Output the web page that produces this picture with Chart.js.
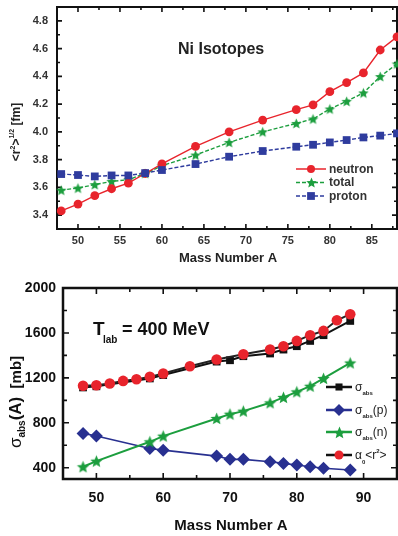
<!DOCTYPE html>
<html><head><meta charset="utf-8">
<script src="https://cdn.jsdelivr.net/npm/chart.js@4"></script>
<style>
html,body{margin:0;padding:0;background:#fff;overflow:hidden;}
canvas{display:block;}
</style></head><body>
<canvas id="c1" width="398" height="268"></canvas>
<canvas id="c2" width="398" height="268"></canvas>
<script>
// ---------- Top chart data (Ni isotopes radii) ----------
const isoA = [48,50,52,54,56,58,60,64,68,72,76,78,80,82,84,86,88];
const neutronR = [3.43,3.48,3.54,3.59,3.63,3.70,3.77,3.895,4.00,4.085,4.16,4.195,4.29,4.355,4.425,4.59,4.685];
const totalR   = [3.58,3.595,3.62,3.643,3.655,3.70,3.756,3.833,3.924,4.00,4.061,4.093,4.165,4.22,4.281,4.399,4.49];
const protonR  = [3.696,3.689,3.679,3.686,3.686,3.703,3.725,3.768,3.821,3.862,3.893,3.907,3.924,3.941,3.96,3.973,3.989];
const topYTicks = [3.4,3.6,3.8,4.0,4.2,4.4,4.6,4.8];
const topXTicks = [50,55,60,65,70,75,80,85];

// ---------- Bottom chart data (absorption cross sections) ----------
const absA   = [48,50,58,60,68,70,72,76,78,80,82,84,88];
const sigmaAbs = [1115,1125,1195,1225,1345,1357,1393,1417,1452,1482,1529,1580,1707];
const sigmaP   = [706,682,572,557,504,475,475,453,439,424,409,395,380];
const sigmaN   = [409,459,631,682,839,877,904,978,1026,1076,1126,1195,1333];
const alphaA   = [48,50,52,54,56,58,60,64,68,72,76,78,80,82,84,86,88];
const alphaR2  = [1130,1135,1150,1173,1188,1209,1239,1304,1364,1410,1452,1482,1529,1580,1618,1713,1767];
const botYTicks = [400,800,1200,1600,2000];
const botXTicks = [50,60,70,80,90];

const FONT = "'Liberation Sans', Arial, sans-serif";
const RED = '#e8242c', GREEN = '#1c9e3e', BLUE = '#2f3c9e', NAVY = '#283090', BLACK = '#111';

function makeStar(color, R) {
  const s = Math.ceil(2 * R + 2);
  const c = document.createElement('canvas');
  c.width = s; c.height = s;
  const g = c.getContext('2d');
  g.fillStyle = color;
  g.beginPath();
  const cx = s / 2, cy = s / 2 + R * 0.08, r = R * 0.45;
  for (let i = 0; i < 10; i++) {
    const ang = -Math.PI / 2 + i * Math.PI / 5;
    const rr = i % 2 === 0 ? R : r;
    const px = cx + rr * Math.cos(ang), py = cy + rr * Math.sin(ang);
    if (i === 0) g.moveTo(px, py); else g.lineTo(px, py);
  }
  g.closePath(); g.fill();
  return c;
}
const starTop = makeStar(GREEN, 5.5);
const starBot = makeStar(GREEN, 6.5);

function pts(xs, ys) { return xs.map((a, i) => ({ x: a, y: ys[i] })); }

function marker(ctx, style, x, y, r, color) {
  ctx.save();
  ctx.fillStyle = color; ctx.strokeStyle = color; ctx.setLineDash([]);
  ctx.beginPath();
  if (style === 'circle') { ctx.arc(x, y, r, 0, Math.PI * 2); ctx.fill(); }
  else if (style === 'rect') { const h = r * Math.SQRT1_2; ctx.fillRect(x - h, y - h, 2 * h, 2 * h); }
  else if (style === 'rectRot') { ctx.moveTo(x, y - r); ctx.lineTo(x + r, y); ctx.lineTo(x, y + r); ctx.lineTo(x - r, y); ctx.closePath(); ctx.fill(); }
  else if (style && style.getContext) { ctx.drawImage(style, Math.round(x - style.width / 2), Math.round(y - style.height / 2)); }
  ctx.restore();
}

function drawRich(ctx, x, y, segs, align) {
  let w = 0;
  const f = s => (s.bold ? 'bold ' : '') + s.size + 'px ' + FONT;
  for (const s of segs) { ctx.font = f(s); s.w = ctx.measureText(s.t).width; w += s.w; }
  let cx = align === 'center' ? x - w / 2 : (align === 'right' ? x - w : x);
  ctx.textAlign = 'left'; ctx.textBaseline = 'alphabetic';
  for (const s of segs) { ctx.font = f(s); ctx.fillText(s.t, cx, y + (s.dy || 0)); cx += s.w; }
}

function drawFrameTicks(ctx, a, x, y, xMaj, xMin, yMaj, yMin, lw, tl, tm) {
  ctx.save();
  ctx.strokeStyle = BLACK; ctx.setLineDash([]);
  ctx.lineWidth = lw;
  ctx.strokeRect(a.left, a.top, a.right - a.left, a.bottom - a.top);
  ctx.lineWidth = 1.6;
  ctx.beginPath();
  const vx = (v, len) => {
    const p = x.getPixelForValue(v);
    if (p < a.left + 1 || p > a.right - 1) return;
    ctx.moveTo(p, a.bottom); ctx.lineTo(p, a.bottom - len);
    ctx.moveTo(p, a.top); ctx.lineTo(p, a.top + len);
  };
  const vy = (v, len) => {
    const p = y.getPixelForValue(v);
    if (p < a.top + 1 || p > a.bottom - 1) return;
    ctx.moveTo(a.left, p); ctx.lineTo(a.left + len, p);
    ctx.moveTo(a.right, p); ctx.lineTo(a.right - len, p);
  };
  xMaj.forEach(v => vx(v, tl)); xMin.forEach(v => vx(v, tm));
  yMaj.forEach(v => vy(v, tl)); yMin.forEach(v => vy(v, tm));
  ctx.stroke();
  ctx.restore();
}
function mids(arr) { const out = []; for (let i = 0; i < arr.length - 1; i++) out.push((arr[i] + arr[i + 1]) / 2); out.push(arr[arr.length - 1] + (arr[1] - arr[0]) / 2); out.unshift(arr[0] - (arr[1] - arr[0]) / 2); return out; }

function fitX(h) { return s => { s.height = h; s.paddingLeft = 0; s.paddingRight = 0; s.paddingTop = 0; s.paddingBottom = 0; }; }
function fitY(w) { return s => { s.width = w; s.paddingLeft = 0; s.paddingRight = 0; s.paddingTop = 0; s.paddingBottom = 0; }; }

// ---------------- TOP CHART ----------------
const topDecor = {
  id: 'topDecor',
  beforeDatasetsDraw(chart) {
    const { ctx, chartArea: a, scales: { x, y } } = chart;
    drawFrameTicks(ctx, a, x, y, topXTicks, mids(topXTicks), topYTicks, mids(topYTicks), 2, 5, 3);
  },
  afterDraw(chart) {
    const { ctx } = chart;
    ctx.save();
    ctx.fillStyle = '#222';
    ctx.font = 'bold 16px ' + FONT; ctx.textAlign = 'left'; ctx.textBaseline = 'alphabetic';
    ctx.fillText('Ni Isotopes', 178, 54);
    ctx.font = 'bold 13px ' + FONT; ctx.textAlign = 'center';
    ctx.fillText('Mass Number A', 228, 262);
    // y title
    ctx.save(); ctx.translate(15, 132); ctx.rotate(-Math.PI / 2);
    drawRich(ctx, 0, 5, [
      { t: '<r', size: 12, bold: true }, { t: '2', size: 7, bold: true, dy: -5 },
      { t: '>', size: 12, bold: true }, { t: '1/2', size: 7, bold: true, dy: -6 },
      { t: ' [fm]', size: 12, bold: true }], 'center');
    ctx.restore();
    // legend
    const rows = [
      { t: 'neutron', c: RED, s: 'circle', r: 4, dash: [] },
      { t: 'total', c: GREEN, s: starTop, r: 5, dash: [4, 2] },
      { t: 'proton', c: BLUE, s: 'rect', r: 5.5, dash: [4, 2] }];
    rows.forEach((row, i) => {
      const yy = 169 + i * 13.5;
      ctx.save(); ctx.strokeStyle = row.c; ctx.lineWidth = 1.5; ctx.setLineDash(row.dash);
      ctx.beginPath(); ctx.moveTo(296, yy); ctx.lineTo(326, yy); ctx.stroke(); ctx.restore();
      marker(ctx, row.s, 311, yy, row.r, row.c);
      ctx.fillStyle = '#333'; ctx.font = 'bold 12px ' + FONT; ctx.textAlign = 'left'; ctx.textBaseline = 'middle';
      ctx.fillText(row.t, 329, yy + 0.5);
    });
    ctx.restore();
  }
};

new Chart(document.getElementById('c1'), {
  type: 'line',
  data: {
    datasets: [
      { label: 'proton', data: pts(isoA, protonR), borderColor: BLUE, backgroundColor: BLUE, pointBackgroundColor: BLUE, pointBorderColor: BLUE,
        pointStyle: 'rect', pointRadius: 5.5, pointBorderWidth: 0, borderWidth: 1.4, borderDash: [4, 2], clip: false, order: 0 },
      { label: 'neutron', data: pts(isoA, neutronR), borderColor: RED, backgroundColor: RED, pointBackgroundColor: RED, pointBorderColor: RED,
        pointStyle: 'circle', pointRadius: 4.4, pointBorderWidth: 0, borderWidth: 1.4, clip: false, order: 1 },
      { label: 'total', data: pts(isoA, totalR), borderColor: GREEN, backgroundColor: GREEN,
        pointStyle: starTop, pointRadius: 5, borderWidth: 1.4, borderDash: [4, 2], clip: false, order: 2 }
    ]
  },
  options: {
    responsive: false, animation: false, events: [], devicePixelRatio: 1,
    layout: { autoPadding: false, padding: { top: 7, right: 1, left: 0, bottom: 0 } },
    plugins: { legend: { display: false }, tooltip: { enabled: false } },
    scales: {
      x: {
        type: 'linear', min: 47.5, max: 88,
        afterFit: fitX(39),
        afterBuildTicks: s => { s.ticks = topXTicks.map(v => ({ value: v })); },
        grid: { display: false, drawTicks: false }, border: { display: false },
        ticks: { padding: 5, color: '#333', autoSkip: false, maxRotation: 0, font: { family: FONT, size: 11, weight: 'bold' }, callback: v => String(v) }
      },
      y: {
        type: 'linear', min: 3.3, max: 4.9,
        afterFit: fitY(57),
        afterBuildTicks: s => { s.ticks = topYTicks.map(v => ({ value: v })); },
        grid: { display: false, drawTicks: false }, border: { display: false },
        ticks: { padding: 9, color: '#333', autoSkip: false, font: { family: FONT, size: 11, weight: 'bold' }, callback: v => Number(v).toFixed(1) }
      }
    }
  },
  plugins: [topDecor]
});

// ---------------- BOTTOM CHART ----------------
const botDecor = {
  id: 'botDecor',
  beforeDatasetsDraw(chart) {
    const { ctx, chartArea: a, scales: { x, y } } = chart;
    drawFrameTicks(ctx, a, x, y, botXTicks, mids(botXTicks), botYTicks, mids(botYTicks), 2.5, 6, 4);
  },
  afterDraw(chart) {
    const { ctx } = chart;
    ctx.save();
    ctx.fillStyle = '#111'; ctx.textAlign = 'left'; ctx.textBaseline = 'alphabetic';
    ctx.font = 'bold 19px ' + FONT; ctx.fillText('T', 93, 67);
    ctx.font = 'bold 10px ' + FONT; ctx.fillText('lab', 103, 75);
    ctx.font = 'bold 18px ' + FONT; ctx.fillText('= 400 MeV', 122, 67);
    ctx.font = 'bold 15px ' + FONT; ctx.textAlign = 'center';
    ctx.fillText('Mass Number A', 231, 262);
    // y title
    ctx.save(); ctx.translate(14, 134); ctx.rotate(-Math.PI / 2);
    drawRich(ctx, 0, 7, [
      { t: 'σ', size: 17, bold: false }, { t: 'abs', size: 10, bold: true, dy: 4 },
      { t: '(A)', size: 17, bold: true }, { t: '  [mb]', size: 15, bold: true }], 'center');
    ctx.restore();
    // legend
    const rows = [
      { c: BLACK, lc: BLACK, s: 'rect', r: 5, segs: [{ t: 'σ', size: 12 }, { t: 'abs', size: 6, bold: true, dy: 4 }] },
      { c: NAVY, lc: NAVY, s: 'rectRot', r: 6, segs: [{ t: 'σ', size: 12 }, { t: 'abs', size: 6, bold: true, dy: 4 }, { t: '(p)', size: 12 }] },
      { c: GREEN, lc: GREEN, s: starBot, r: 6, segs: [{ t: 'σ', size: 12 }, { t: 'abs', size: 6, bold: true, dy: 4 }, { t: '(n)', size: 12 }] },
      { c: RED, lc: BLACK, s: 'circle', r: 4.5, segs: [{ t: 'α', size: 12 }, { t: '0', size: 6, bold: true, dy: 5 }, { t: '<r', size: 12 }, { t: '2', size: 6, bold: true, dy: -6 }, { t: '>', size: 12 }] }];
    const ys = [119, 142, 164, 187];
    rows.forEach((row, i) => {
      const yy = ys[i];
      ctx.save(); ctx.strokeStyle = row.lc; ctx.lineWidth = 2.5; ctx.setLineDash([]);
      ctx.beginPath(); ctx.moveTo(326, yy); ctx.lineTo(352, yy); ctx.stroke(); ctx.restore();
      marker(ctx, row.s, 339, yy, row.r, row.c);
      ctx.fillStyle = '#222';
      drawRich(ctx, 355, yy + 4, row.segs, 'left');
    });
    ctx.restore();
  }
};

new Chart(document.getElementById('c2'), {
  type: 'line',
  data: {
    datasets: [
      { label: 'alpha0 r2', data: pts(alphaA, alphaR2), borderColor: '#222', backgroundColor: RED, pointBackgroundColor: RED, pointBorderColor: RED,
        pointStyle: 'circle', pointRadius: 5.3, pointBorderWidth: 0, borderWidth: 2, clip: false, order: 0 },
      { label: 'sigma abs', data: pts(absA, sigmaAbs), borderColor: BLACK, backgroundColor: BLACK, pointBackgroundColor: BLACK, pointBorderColor: BLACK,
        pointStyle: 'rect', pointRadius: 5.5, pointBorderWidth: 0, borderWidth: 2, clip: false, order: 1 },
      { label: 'sigma abs n', data: pts(absA, sigmaN), borderColor: GREEN, backgroundColor: GREEN,
        pointStyle: starBot, pointRadius: 6, borderWidth: 2, clip: false, order: 2 },
      { label: 'sigma abs p', data: pts(absA, sigmaP), borderColor: NAVY, backgroundColor: NAVY, pointBackgroundColor: NAVY, pointBorderColor: NAVY,
        pointStyle: 'rectRot', pointRadius: 6.5, pointBorderWidth: 0, borderWidth: 1.6, clip: false, order: 3 }
    ]
  },
  options: {
    responsive: false, animation: false, events: [], devicePixelRatio: 1,
    layout: { autoPadding: false, padding: { top: 20, right: 1, left: 0, bottom: 0 } },
    plugins: { legend: { display: false }, tooltip: { enabled: false } },
    scales: {
      x: {
        type: 'linear', min: 45, max: 95,
        afterFit: fitX(57),
        afterBuildTicks: s => { s.ticks = botXTicks.map(v => ({ value: v })); },
        grid: { display: false, drawTicks: false }, border: { display: false },
        ticks: { padding: 11, color: '#111', autoSkip: false, maxRotation: 0, font: { family: FONT, size: 14, weight: 'bold' }, callback: v => String(v) }
      },
      y: {
        type: 'linear', min: 300, max: 2000,
        afterFit: fitY(63),
        afterBuildTicks: s => { s.ticks = botYTicks.map(v => ({ value: v })); },
        grid: { display: false, drawTicks: false }, border: { display: false },
        ticks: { padding: 7, color: '#111', autoSkip: false, font: { family: FONT, size: 14, weight: 'bold' }, callback: v => String(v) }
      }
    }
  },
  plugins: [botDecor]
});
</script>
</body></html>
